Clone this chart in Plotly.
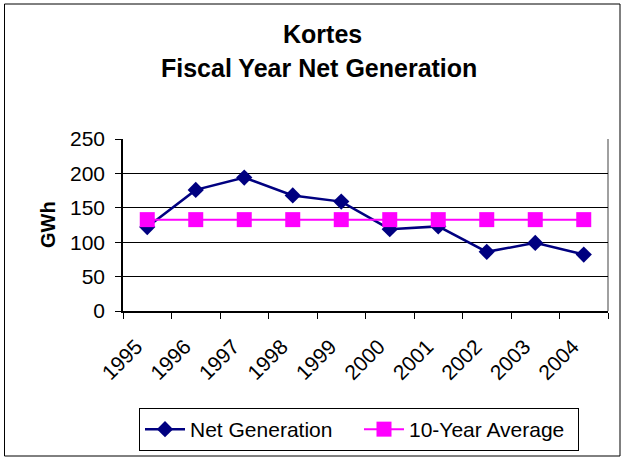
import plotly.graph_objects as go

years = ["1995", "1996", "1997", "1998", "1999", "2000", "2001", "2002", "2003", "2004"]
net_generation = [122, 176, 194, 168, 159, 119, 123, 86, 99, 82]
ten_year_average = [132.8, 132.8, 132.8, 132.8, 132.8, 132.8, 132.8, 132.8, 132.8, 132.8]
y_ticks = [0, 50, 100, 150, 200, 250]

W, H = 623, 458
L, R, T, B = 123, 15, 139, 147
PW, PH = W - L - R, H - T - B


def px_x(x):
    return (x - L) / PW


def px_y(y):
    return (H - B - y) / PH


FONT = "Liberation Sans, Arial, sans-serif"

fig = go.Figure()
fig.add_trace(go.Scatter(
    x=years, y=net_generation, name="Net Generation", mode="lines+markers",
    line=dict(color="#000080", width=2.5),
    marker=dict(symbol="diamond", size=12.5, color="#000080"),
))
fig.add_trace(go.Scatter(
    x=years, y=ten_year_average, name="10-Year Average", mode="lines+markers",
    line=dict(color="#FF00FF", width=2),
    marker=dict(symbol="square", size=15, color="#FF00FF"),
))

fig.update_layout(
    width=W, height=H,
    margin=dict(l=L, r=R, t=T, b=B, autoexpand=False),
    paper_bgcolor="white", plot_bgcolor="white",
    font=dict(family=FONT, size=21, color="black"),
    showlegend=True,
    legend=dict(
        orientation="h", x=px_x(359), xanchor="center", y=px_y(408), yanchor="top",
        bordercolor="black", borderwidth=1, bgcolor="white",
        font=dict(family=FONT, size=21, color="black"),
        itemwidth=40, tracegroupgap=0,
        entrywidth=164, entrywidthmode="pixels",
    ),
    xaxis=dict(
        type="category", tickson="boundaries", ticks="outside", ticklen=6,
        tickcolor="black", tickwidth=1, tickangle=-45,
        showline=True, linecolor="black", linewidth=2, showgrid=False,
        tickfont=dict(family=FONT, size=21, color="black"),
        ticklabelshift=-11, ticklabelstandoff=13,
        range=[-0.5, 9.5], fixedrange=True,
    ),
    yaxis=dict(
        range=[0, 250], tickvals=y_ticks, ticks="outside", ticklen=6,
        tickcolor="black", tickwidth=1,
        showline=True, linecolor="black", linewidth=1.5,
        showgrid=True, gridcolor="black", gridwidth=1, zeroline=False,
        tickfont=dict(family=FONT, size=21, color="black"),
        ticklabelstandoff=6,
    ),
    annotations=[
        dict(text="<b>Kortes</b>", x=px_x(322), y=px_y(34), xref="paper", yref="paper",
             showarrow=False, xanchor="center", yanchor="middle",
             font=dict(family=FONT, size=25, color="black")),
        dict(text="<b>Fiscal Year Net Generation</b>", x=px_x(319), y=px_y(68), xref="paper", yref="paper",
             showarrow=False, xanchor="center", yanchor="middle",
             font=dict(family=FONT, size=25, color="black")),
        dict(text="<b>GWh</b>", x=px_x(48), y=px_y(225), xref="paper", yref="paper",
             showarrow=False, xanchor="center", yanchor="middle", textangle=-90,
             font=dict(family=FONT, size=20, color="black")),
    ],
    shapes=[
        dict(type="line", xref="paper", yref="paper", x0=1, x1=1, y0=0, y1=1,
             line=dict(color="#808080", width=1.5), layer="between"),
        dict(type="rect", xref="paper", yref="paper",
             x0=px_x(4.5), x1=px_x(620), y0=px_y(4), y1=px_y(456),
             line=dict(color="black", width=1), layer="below"),
    ],
)

fig.write_html(
    "out.html",
    config={"displayModeBar": False},
    post_script="document.body.style.margin='0px';document.body.style.overflow='hidden';",
)
